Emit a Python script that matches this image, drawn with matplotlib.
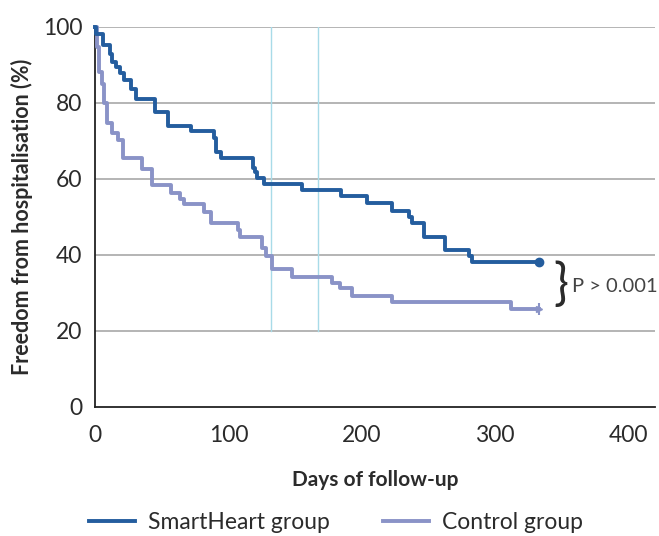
import matplotlib
matplotlib.use("Agg")
import matplotlib.pyplot as plt
from matplotlib.lines import Line2D

# Kaplan-Meier style step data
sh_days = [0, 1, 6, 11, 13, 15.5, 19, 22, 27, 30.5, 44.7, 54.8, 71.8, 89.5, 91,
           94.3, 118.5, 120, 121.5, 127, 155.5, 184.3, 204, 223, 235.5, 237.5,
           246.7, 262.5, 280.5, 283, 333]
sh_surv = [100, 98.1, 95.3, 93.0, 90.9, 89.5, 87.8, 86.1, 83.8, 81.0, 77.7, 73.9,
           72.6, 70.8, 67.2, 65.4, 62.9, 61.9, 60.3, 58.7, 57.1, 55.4, 53.6, 51.7,
           50.1, 48.3, 44.6, 41.3, 39.6, 38.1, 38.1]

ctrl_days = [0, 1.5, 3, 5.5, 6.8, 9.2, 13, 17.5, 21, 35.5, 42.5, 57, 63.5, 67, 82,
             87, 107, 108.5, 125.5, 128.5, 132.5, 148, 178, 184, 193, 222.5, 312, 333]
ctrl_surv = [100, 94.8, 88.2, 85.1, 79.9, 74.6, 72.0, 70.3, 65.4, 62.5, 58.4, 56.4,
             54.6, 53.4, 51.4, 48.3, 46.6, 44.8, 41.8, 39.6, 36.2, 34.3, 32.7, 31.2,
             29.3, 27.5, 25.8, 25.8]

ref_days = [132, 167]
x_ticks = [0, 100, 200, 300, 400]
y_ticks = [0, 20, 40, 60, 80, 100]

SH_COLOUR = "#245d9e"
CTRL_COLOUR = "#8a93c7"
TEXT_COLOUR = "#2b2b2b"

plt.rcParams["font.family"] = ["Lato", "DejaVu Sans"]

fig = plt.figure(figsize=(6.59, 5.36), dpi=100)
ax = fig.add_axes([0.1442, 0.2407, 0.8498, 0.709])

for y in y_ticks[1:]:
    ax.axhline(y, color="#a0a0a0", linewidth=1.1, zorder=1)

for d in ref_days:
    ax.axvline(d, ymin=0.2, ymax=1.0, color="#a8dbe8", linewidth=1.0, zorder=1)

ax.step(ctrl_days, ctrl_surv, where="post", color=CTRL_COLOUR, linewidth=2.8,
        zorder=3, clip_on=False)
ax.step(sh_days, sh_surv, where="post", color=SH_COLOUR, linewidth=2.8,
        zorder=4, clip_on=False)
ax.plot(sh_days[-1], sh_surv[-1], marker="o", markersize=6, color=SH_COLOUR,
        zorder=5, clip_on=False)
ax.plot(ctrl_days[-1], ctrl_surv[-1], marker=">", markersize=5, color=CTRL_COLOUR,
        zorder=5, clip_on=False)
ax.plot(ctrl_days[-1], ctrl_surv[-1], marker="|", markersize=8, markeredgewidth=1.5,
        color=CTRL_COLOUR, zorder=5, clip_on=False)

ax.set_xlim(0, 420)
ax.set_ylim(0, 100)
ax.set_xticks(x_ticks)
ax.set_yticks(y_ticks)
ax.tick_params(length=0, labelsize=16.5, labelcolor=TEXT_COLOUR)
ax.tick_params(axis="x", pad=13)
ax.tick_params(axis="y", pad=9)

for side in ["top", "right"]:
    ax.spines[side].set_visible(False)
for side in ["left", "bottom"]:
    ax.spines[side].set_color("#222222")
    ax.spines[side].set_linewidth(1.3)

ax.set_xlabel("Days of follow-up", fontsize=15, fontweight="bold",
              color=TEXT_COLOUR, labelpad=17)
ax.set_ylabel("Freedom from hospitalisation (%)", fontsize=15.5, fontweight="bold",
              color=TEXT_COLOUR, labelpad=7)

# bracket and p-value
ax.text(344, 31.8, "}", fontsize=36, color=TEXT_COLOUR,
        ha="left", va="center", clip_on=False)
ax.text(358, 31.8, "P > 0.001", fontsize=14.5, color="#444444",
        ha="left", va="center", clip_on=False)

handles = [
    Line2D([], [], color=SH_COLOUR, linewidth=2.8),
    Line2D([], [], color=CTRL_COLOUR, linewidth=2.8),
]
leg = fig.legend(handles, ["SmartHeart group", "Control group"],
                 loc="center", bbox_to_anchor=(0.51, 0.025), ncol=2,
                 frameon=False, handlelength=2.0, handletextpad=0.6,
                 columnspacing=2.3, prop={"size": 16.5})
for t in leg.get_texts():
    t.set_color(TEXT_COLOUR)

fig.savefig("out.png", dpi=100)
